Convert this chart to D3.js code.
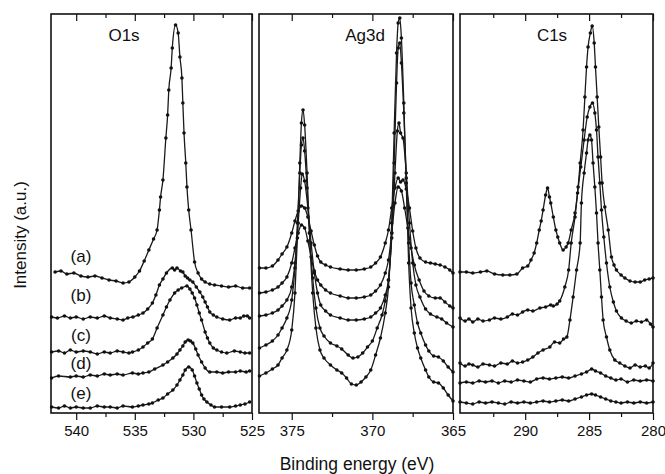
<!DOCTYPE html>
<html>
<head>
<meta charset="utf-8">
<script src="https://cdn.jsdelivr.net/npm/d3@7"></script>
<style>
  body { margin: 0; background: #fff; }
  svg { font-family: "Liberation Sans", Arial, sans-serif; }
</style>
</head>
<body>
<svg id="chart" width="665" height="474"></svg>
<script>
// ---- données : [énergie de liaison (eV), intensité (u.a.)] ----
const curveNames = ["(a)", "(b)", "(c)", "(d)", "(e)"];

const o1sA = [[541.8,141],[541.3,142],[540.8,139],[540.2,140],[539.6,137],[539.0,136],[538.4,137],[537.8,135],[537.2,133],[536.6,132],[536.0,130],[535.5,131],[535.0,136],[534.6,142],[534.2,152],[533.8,163],[533.4,174],[533.1,183],[532.9,203],[532.8,216],[532.6,233],[532.35,275],[532.2,298],[532.1,323],[531.9,345],[531.8,365],[531.52,388],[531.3,380],[531.15,356],[530.98,335],[530.9,310],[530.8,280],[530.65,250],[530.55,226],[530.4,203],[530.2,183],[529.9,151],[529.6,140],[529.3,134],[529.0,131],[528.6,129],[528.2,128],[527.6,127],[527.0,126],[526.4,127],[525.8,125],[525.2,125]];
const o1sB = [[542.1,96],[541.6,95],[541.0,97],[540.5,95],[540.0,96],[539.4,94],[538.8,96],[538.2,95],[537.6,97],[537.1,95],[536.5,94],[536.0,93],[535.6,95],[535.16,96],[534.7,98],[534.3,100],[533.9,104],[533.5,110],[533.2,118],[532.9,128],[532.6,134],[532.3,140],[531.8,145],[531.6,143],[531.4,145],[531.1,142],[530.9,141],[530.7,137],[530.5,135],[530.3,133],[530.05,131],[529.75,126],[529.45,121],[529.2,116],[529.0,111],[528.8,106],[528.6,101],[528.3,98],[528.0,96],[527.5,94],[526.9,93],[526.4,95],[526.0,95],[525.7,97],[525.4,97],[525.2,95]];
const o1sC = [[542.1,61],[541.5,62],[541.0,60],[540.5,63],[540.0,61],[539.4,62],[538.8,61],[538.2,59],[537.6,61],[537.1,60],[536.5,62],[536.0,61],[535.5,60],[535.2,61],[534.7,63],[534.3,66],[533.9,70],[533.5,74],[533.1,85],[532.6,98],[532.3,106],[532.0,113],[531.6,120],[531.3,123],[531.0,125],[530.55,127],[530.3,124],[530.1,120],[529.9,115],[529.7,108],[529.5,100],[529.3,93],[529.0,81],[528.8,75],[528.6,70],[528.3,65],[528.0,63],[527.6,61],[527.15,60],[526.5,62],[526.0,61],[525.6,60],[525.2,60]];
const o1sD = [[542.1,35],[541.5,37],[540.5,36],[540.0,37],[539.4,36],[538.8,38],[538.2,37],[537.6,39],[537.1,38],[536.5,39],[536.0,38],[535.2,40],[534.7,39],[534.3,40],[533.8,41],[533.3,44],[532.6,48],[532.2,51],[531.75,55],[531.4,59],[531.15,63],[530.9,67],[530.7,71],[530.45,73],[530.25,72],[530.05,70],[529.8,64],[529.6,58],[529.3,51],[529.0,45],[528.6,41],[528.0,41],[527.5,40],[527.0,41],[526.4,41],[526.0,42],[525.5,41],[525.2,42]];
const o1sE = [[542.1,6],[541.5,5],[541.0,7],[540.5,5],[540.0,6],[539.4,5],[538.8,5],[538.2,7],[537.6,6],[537.1,6],[536.5,5],[536.0,7],[535.2,6],[534.7,7],[534.3,8],[533.8,9],[533.5,10],[533.0,13],[532.6,15],[532.2,19],[531.75,23],[531.4,28],[531.15,33],[530.9,38],[530.7,43],[530.4,46],[530.1,43],[529.9,37],[529.7,30],[529.5,24],[529.3,18],[529.1,14],[528.85,11],[528.5,8],[528.2,6],[527.6,6],[526.9,6],[526.4,7],[526.0,8],[525.6,9],[525.2,11]];

const ag3dA = [[377.0,145],[376.6,145],[376.2,147],[375.85,153],[375.6,159],[375.3,166],[375.0,180],[374.8,192],[374.6,202],[374.4,207],[374.2,205],[374.0,196],[373.8,182],[373.6,168],[373.4,157],[373.2,151],[372.9,148],[372.6,146],[372.0,144],[371.5,143],[371.0,143],[370.5,144],[370.1,146],[369.8,150],[369.5,156],[369.2,170],[369.0,183],[368.8,205],[368.6,225],[368.4,235],[368.25,231],[368.1,233],[367.9,224],[367.7,205],[367.5,182],[367.3,165],[367.05,155],[366.7,151],[366.4,150],[366.1,149],[365.8,148],[365.5,146],[365.2,143],[365.0,140]];
const ag3dB = [[377.0,120],[376.6,121],[376.2,123],[375.85,126],[375.6,130],[375.3,136],[375.0,150],[374.8,165],[374.6,180],[374.4,188],[374.2,185],[374.0,172],[373.8,156],[373.6,142],[373.4,133],[373.2,128],[372.9,123],[372.6,120],[372.0,117],[371.5,115],[371.0,115],[370.5,116],[370.1,118],[369.8,122],[369.5,128],[369.2,140],[369.0,153],[368.8,180],[368.6,210],[368.4,226],[368.2,222],[368.0,205],[367.8,185],[367.6,165],[367.4,148],[367.1,133],[366.8,122],[366.5,117],[366.1,115],[365.8,115],[365.5,111],[365.2,107],[365.0,105]];
const ag3dC = [[377.0,97],[376.6,98],[376.2,100],[375.85,103],[375.6,107],[375.3,113],[375.0,126],[374.8,150],[374.6,190],[374.45,225],[374.35,239],[374.2,232],[374.0,205],[373.8,170],[373.6,140],[373.4,120],[373.2,108],[372.9,102],[372.6,98],[372.0,95],[371.5,93],[371.0,93],[370.5,94],[370.1,96],[369.8,100],[369.5,105],[369.2,118],[369.0,133],[368.8,175],[368.6,240],[368.45,282],[368.35,290],[368.25,280],[368.1,275],[367.9,240],[367.7,190],[367.5,150],[367.3,128],[367.05,116],[366.7,104],[366.4,99],[366.0,96],[365.7,94],[365.4,90],[365.0,86]];
const ag3dD = [[377.0,65],[376.6,68],[376.2,72],[375.85,78],[375.6,85],[375.3,95],[375.0,113],[374.8,145],[374.65,190],[374.5,240],[374.4,268],[374.3,275],[374.2,262],[374.05,225],[373.9,180],[373.7,135],[373.5,105],[373.25,85],[373.0,77],[372.6,70],[372.2,67],[371.9,64],[371.5,58],[371.2,55],[370.9,56],[370.6,60],[370.3,66],[370.0,72],[369.7,85],[369.4,98],[369.2,112],[369.0,133],[368.8,180],[368.65,250],[368.5,330],[368.4,365],[368.3,370],[368.2,350],[368.05,300],[367.9,235],[367.75,170],[367.6,130],[367.4,108],[367.2,90],[367.0,80],[366.7,68],[366.5,62],[366.2,57],[365.9,56],[365.6,52],[365.3,46],[365.0,41]];
const ag3dE = [[377.0,37],[376.6,40],[376.2,44],[375.85,48],[375.6,55],[375.3,63],[375.0,83],[374.8,120],[374.65,175],[374.5,250],[374.4,290],[374.3,303],[374.2,288],[374.05,240],[373.9,180],[373.7,120],[373.5,85],[373.25,63],[373.0,55],[372.6,48],[372.2,43],[371.9,40],[371.6,35],[371.3,29],[371.0,28],[370.7,31],[370.4,36],[370.1,43],[369.8,58],[369.5,75],[369.2,100],[369.0,126],[368.8,190],[368.65,280],[368.5,360],[368.4,390],[368.3,395],[368.2,375],[368.05,310],[367.9,230],[367.75,150],[367.6,105],[367.4,80],[367.2,65],[367.0,55],[366.7,43],[366.5,36],[366.2,31],[365.9,30],[365.6,25],[365.3,18],[365.0,12]];

const c1sA = [[295.1,141],[294.6,141],[294.1,140],[293.5,141],[293.0,142],[292.4,139],[291.75,138],[291.2,138],[290.65,139],[290.2,145],[289.8,147],[289.55,153],[289.3,160],[289.1,170],[288.9,183],[288.75,192],[288.6,203],[288.4,218],[288.25,225],[288.1,216],[288.0,210],[287.8,196],[287.6,183],[287.45,176],[287.3,170],[287.03,163],[286.8,166],[286.64,170],[286.4,183],[286.1,200],[285.86,226],[285.7,250],[285.47,283],[285.33,316],[285.2,346],[285.08,366],[284.9,380],[284.76,387],[284.6,370],[284.5,346],[284.37,316],[284.24,286],[284.1,256],[283.98,230],[283.77,206],[283.5,183],[283.25,156],[283.05,148],[282.86,143],[282.5,138],[282.2,135],[281.8,132],[281.4,131],[281.0,131],[280.65,133],[280.3,134],[280.0,135]];
const c1sB = [[295.1,95],[294.7,92],[294.4,94],[294.1,91],[293.7,94],[293.3,92],[292.8,93],[292.4,95],[291.9,94],[291.4,96],[291.0,99],[290.6,98],[290.2,101],[289.8,103],[289.4,102],[288.85,105],[288.4,106],[288.0,108],[287.8,107],[287.5,109],[287.3,112],[286.9,126],[286.6,143],[286.4,170],[286.1,196],[285.9,220],[285.65,246],[285.39,273],[285.15,296],[284.94,306],[284.73,310],[284.55,300],[284.42,283],[284.3,256],[284.16,230],[284.03,203],[283.85,176],[283.64,150],[283.38,126],[283.1,111],[282.86,102],[282.47,95],[282.1,92],[281.7,90],[281.3,92],[280.9,91],[280.5,93],[280.2,89],[280.0,86]];
const c1sC = [[295.1,50],[294.7,47],[294.4,49],[294.1,48],[293.7,46],[293.3,49],[292.8,48],[292.4,47],[291.9,50],[291.4,49],[291.0,52],[290.6,50],[290.2,51],[289.8,53],[289.4,56],[289.0,60],[288.6,63],[288.07,66],[287.7,71],[287.3,70],[287.0,74],[286.74,76],[286.5,93],[286.25,116],[285.98,143],[285.7,170],[285.6,210],[285.39,240],[285.2,260],[285.08,273],[284.94,278],[284.81,273],[284.69,250],[284.55,226],[284.42,200],[284.3,170],[284.16,143],[284.03,116],[283.9,93],[283.64,76],[283.38,63],[282.99,53],[282.6,50],[282.2,47],[281.8,45],[281.4,48],[281.0,46],[280.6,47],[280.3,45],[280.0,50]];
const c1sD = [[295.1,30],[294.6,31],[294.1,30],[293.6,32],[293.1,31],[292.6,32],[292.1,30],[291.6,32],[291.1,31],[290.6,33],[290.1,32],[289.6,31],[289.1,34],[288.6,35],[288.1,34],[287.6,35],[287.1,36],[286.6,35],[286.1,37],[285.6,39],[285.2,41],[284.8,44],[284.5,42],[284.1,40],[283.7,37],[283.3,35],[282.9,33],[282.5,34],[282.0,31],[281.5,33],[281.0,32],[280.5,33],[280.0,32]];
const c1sE = [[295.1,11],[294.6,10],[294.1,9],[293.6,11],[293.1,10],[292.6,11],[292.1,10],[291.6,9],[291.1,11],[290.6,10],[290.1,11],[289.6,10],[289.1,11],[288.6,12],[288.1,11],[287.6,12],[287.1,13],[286.6,12],[286.1,14],[285.6,16],[285.2,18],[284.8,19],[284.5,18],[284.1,16],[283.7,14],[283.3,12],[282.9,11],[282.5,10],[282.0,11],[281.5,10],[281.0,11],[280.5,10],[280.0,11]];

// graduations
const o1sMajor = [540, 535, 530, 525], o1sMinor = [537.5, 532.5, 527.5];
const agMajor = [375, 370, 365], agMinor = [372.5, 367.5];
const c1sMajor = [290, 285, 280], c1sMinor = [292.5, 287.5, 282.5];

const svg = d3.select("#chart");
const plotTop = 14, plotBottom = 413;

const y = d3.scaleLinear().domain([0, 399]).range([plotBottom, plotTop]);

const panels = [
  {title: "O1s", x0: 51, x1: 252, domain: [542.15, 525], series: [o1sA, o1sB, o1sC, o1sD, o1sE], major: o1sMajor, minor: o1sMinor, titleX: 124},
  {title: "Ag3d", x0: 259, x1: 453, domain: [377.03, 365], series: [ag3dA, ag3dB, ag3dC, ag3dD, ag3dE], major: agMajor, minor: agMinor, titleX: 365},
  {title: "C1s", x0: 460, x1: 653, domain: [295.1, 280], series: [c1sA, c1sB, c1sC, c1sD, c1sE], major: c1sMajor, minor: c1sMinor, titleX: 552}
];

panels.forEach(p => {
  const x = d3.scaleLinear().domain(p.domain).range([p.x0, p.x1]);
  const g = svg.append("g");

  const line = d3.line()
    .x(d => x(d[0]))
    .y(d => y(d[1]))
    .curve(d3.curveMonotoneX);

  // courbes + marqueurs
  p.series.forEach(s => {
    g.append("path")
      .attr("d", line(s))
      .attr("fill", "none")
      .attr("stroke", "#1a1a1a")
      .attr("stroke-width", 1.3);
    g.selectAll(null)
      .data(s)
      .enter()
      .append("circle")
      .attr("cx", d => x(d[0]))
      .attr("cy", d => y(d[1]))
      .attr("r", 1.8)
      .attr("fill", "#111");
  });

  // axe du bas (graduations vers l'extérieur)
  g.append("g")
    .attr("transform", "translate(0," + plotBottom + ")")
    .call(d3.axisBottom(x).tickValues(p.minor).tickSize(4).tickFormat(""));
  g.append("g")
    .attr("transform", "translate(0," + plotBottom + ")")
    .call(d3.axisBottom(x).tickValues(p.major).tickSize(7).tickPadding(5).tickFormat(d3.format("d")));

  // axe du haut (graduations vers l'intérieur)
  g.append("g")
    .attr("transform", "translate(0," + plotTop + ")")
    .call(d3.axisTop(x).tickValues(p.minor).tickSize(-4).tickFormat(""));
  g.append("g")
    .attr("transform", "translate(0," + plotTop + ")")
    .call(d3.axisTop(x).tickValues(p.major).tickSize(-7).tickFormat(""));

  g.selectAll(".domain").remove();
  g.selectAll(".tick line").attr("stroke", "#111").attr("stroke-width", 1.2);
  g.selectAll(".tick text")
    .attr("font-size", "15px")
    .attr("fill", "#111")
    .attr("font-family", "'Liberation Sans', Arial, sans-serif");

  // cadre
  g.append("rect")
    .attr("x", p.x0)
    .attr("y", plotTop)
    .attr("width", p.x1 - p.x0)
    .attr("height", plotBottom - plotTop)
    .attr("fill", "none")
    .attr("stroke", "#111")
    .attr("stroke-width", 1.6);

  g.append("text")
    .attr("x", p.titleX)
    .attr("y", 41)
    .attr("text-anchor", "middle")
    .attr("font-size", "17px")
    .attr("fill", "#111")
    .text(p.title);
});

// étiquettes (a)...(e) du panneau O1s
const labelY = [256, 295, 335, 363, 393];
svg.selectAll(".lab")
  .data(curveNames)
  .enter()
  .append("text")
  .attr("x", 81)
  .attr("y", (d, i) => labelY[i])
  .attr("dy", "0.35em")
  .attr("text-anchor", "middle")
  .attr("font-size", "17px")
  .attr("fill", "#111")
  .text(d => d);

// titres des axes
svg.append("text")
  .attr("x", 357)
  .attr("y", 470)
  .attr("text-anchor", "middle")
  .attr("font-size", "17.5px")
  .attr("fill", "#111")
  .text("Binding energy (eV)");

svg.append("text")
  .attr("transform", "translate(26,235) rotate(-90)")
  .attr("text-anchor", "middle")
  .attr("font-size", "17px")
  .attr("fill", "#111")
  .text("Intensity (a.u.)");
</script>
</body>
</html>
